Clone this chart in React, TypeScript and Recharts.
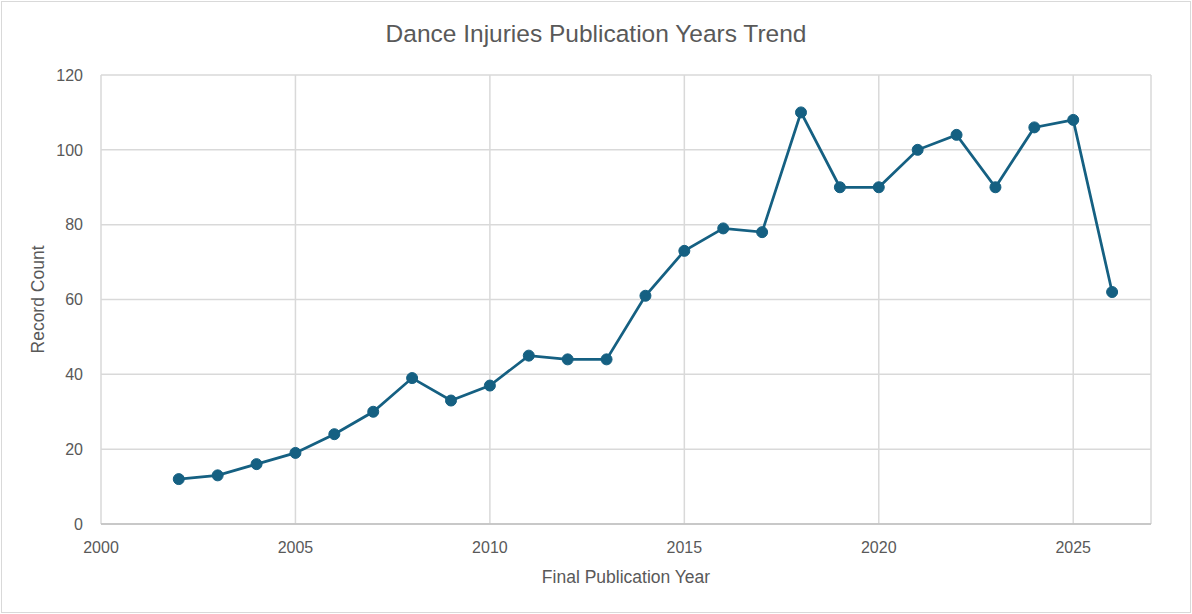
import React from "react";
import { LineChart, Line, XAxis, YAxis, CartesianGrid, Label } from "recharts";

const years = [2002, 2003, 2004, 2005, 2006, 2007, 2008, 2009, 2010, 2011, 2012, 2013, 2014, 2015, 2016, 2017, 2018, 2019, 2020, 2021, 2022, 2023, 2024, 2025, 2026];
const recordCounts = [12, 13, 16, 19, 24, 30, 39, 33, 37, 45, 44, 44, 61, 73, 79, 78, 110, 90, 90, 100, 104, 90, 106, 108, 62];
const xTicks = [2000, 2005, 2010, 2015, 2020, 2025];
const yTicks = [0, 20, 40, 60, 80, 100, 120];

const chartTitle = "Dance Injuries Publication Years Trend";
const xTitle = "Final Publication Year";
const yTitle = "Record Count";

const data = years.map((y, i) => ({ year: y, count: recordCounts[i] }));

const FONT = "'Liberation Sans', Arial, sans-serif";
const TEXT = "#595959";
const LINE = "#156082";

export default function App() {
  return (
    <div style={{ position: "absolute", left: 0, top: 0, width: 1192, height: 614, background: "#fff", fontFamily: FONT }}>
      <div
        style={{
          position: "absolute",
          left: 1,
          top: 1,
          width: 1190,
          height: 612,
          boxSizing: "border-box",
          border: "1px solid #d9d9d9",
        }}
      />
      <div
        style={{
          position: "absolute",
          left: 0,
          top: 18,
          width: 1192,
          textAlign: "center",
          fontSize: 24.5,
          color: TEXT,
          lineHeight: "32px",
        }}
      >
        {chartTitle}
      </div>
      <div style={{ position: "absolute", left: 0, top: 0 }}>
        <LineChart width={1192} height={614} data={data} margin={{ top: 75, right: 41, bottom: 0, left: 0 }}>
          <CartesianGrid stroke="#d9d9d9" strokeWidth={1.5} />
          <XAxis
            dataKey="year"
            type="number"
            domain={[2000, 2027]}
            ticks={xTicks}
            allowDecimals={false}
            tickLine={false}
            tickMargin={12}
            axisLine={{ stroke: "#bfbfbf", strokeWidth: 1.5 }}
            tick={{ fill: TEXT, fontSize: 16, fontFamily: FONT }}
            height={90}
          >
            <Label value={xTitle} position="insideBottom" offset={31} fill={TEXT} fontSize={17.5} fontFamily={FONT} />
          </XAxis>
          <YAxis
            type="number"
            domain={[0, 120]}
            ticks={yTicks}
            tickLine={false}
            axisLine={false}
            tickMargin={12}
            tick={{ fill: TEXT, fontSize: 16, fontFamily: FONT }}
            width={101}
          >
            <Label value={yTitle} angle={-90} position="insideLeft" offset={38} fill={TEXT} fontSize={17.5} fontFamily={FONT} style={{ textAnchor: "middle" }} />
          </YAxis>
          <Line
            type="linear"
            dataKey="count"
            stroke={LINE}
            strokeWidth={2.75}
            dot={{ r: 5.5, fill: LINE, stroke: LINE, strokeWidth: 1 }}
            activeDot={false}
            isAnimationActive={false}
          />
        </LineChart>
      </div>
    </div>
  );
}
